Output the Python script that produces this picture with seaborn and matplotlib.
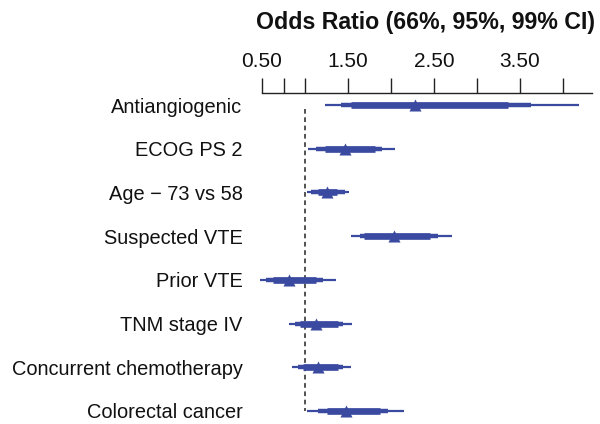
import numpy as np
import pandas as pd
import seaborn as sns
import matplotlib.pyplot as plt

# values (odds ratios)
labels = ['Antiangiogenic', 'ECOG PS 2', 'Age \u2212 73 vs 58', 'Suspected VTE',
          'Prior VTE', 'TNM stage IV', 'Concurrent chemotherapy', 'Colorectal cancer']
odds = [2.28, 1.47, 1.25, 2.04, 0.81, 1.13, 1.15, 1.48]
lo66 = [1.54, 1.23, 1.15, 1.69, 0.63, 0.94, 0.98, 1.25]
hi66 = [3.36, 1.81, 1.37, 2.45, 1.13, 1.38, 1.38, 1.87]
lo95 = [1.42, 1.13, 1.07, 1.64, 0.55, 0.88, 0.92, 1.15]
hi95 = [3.63, 1.89, 1.46, 2.55, 1.21, 1.44, 1.44, 1.97]
lo99 = [1.23, 1.04, 1.02, 1.53, 0.48, 0.81, 0.85, 1.02]
hi99 = [4.19, 2.05, 1.51, 2.71, 1.36, 1.55, 1.54, 2.15]
xticks = [0.5, 0.75, 1.0, 1.5, 2.0, 2.5, 3.0, 3.5, 4.0]
xticklabels = ['0.50', '', '', '1.50', '', '2.50', '', '3.50', '']

df = pd.DataFrame({'label': labels, 'odds': odds,
                   'lo66': lo66, 'hi66': hi66, 'lo95': lo95, 'hi95': hi95,
                   'lo99': lo99, 'hi99': hi99})
df['pos'] = np.arange(len(df))

sns.set_theme(style='white')
plt.rcParams['font.family'] = ['Liberation Sans', 'DejaVu Sans']

col = '#3a4aa0'
fig = plt.figure(figsize=(6, 4.24), dpi=100)
ax = fig.add_axes([262 / 600, 0.0, (591.7 - 262) / 600, 1 - 93.3 / 424])

ax.vlines(1.0, 0.08, 7, colors='#444444', linestyles=(0, (2.6, 2.0)), lw=1.3, zorder=1)
ax.hlines(df.pos, df.lo99, df.hi99, colors=col, lw=1.6, zorder=2, clip_on=False)
ax.hlines(df.pos, df.lo95, df.hi95, colors=col, lw=3.2, zorder=3, clip_on=False)
ax.hlines(df.pos, df.lo66, df.hi66, colors=col, lw=4.8, zorder=4, clip_on=False)
sns.scatterplot(data=df, x='odds', y='pos', marker='^', s=75, color=col,
                edgecolor=col, linewidth=0, zorder=5, ax=ax, clip_on=False)

ax.set_xlim(0.5, 4.333)
ax.set_ylim(7.30, -0.27)
ax.set_yticks(df.pos)
ax.set_yticklabels(labels, fontsize=14.4, color='#111111')
ax.set_xticks(xticks)
ax.set_xticklabels(xticklabels, fontsize=15, color='#111111')
ax.xaxis.tick_top()
ax.tick_params(axis='x', direction='out', length=11, width=1, color='#222222', pad=5)
ax.tick_params(axis='y', length=0, pad=14)
for s in ['left', 'right', 'bottom']:
    ax.spines[s].set_visible(False)
ax.spines['top'].set_color('#222222')
ax.spines['top'].set_linewidth(1)
ax.set_xlabel('')
ax.set_ylabel('')

fig.text(426 / 600, 1 - 23 / 424, 'Odds Ratio (66%, 95%, 99% CI)', ha='center', va='center',
         fontsize=16.7, fontweight='bold', color='#111111')

fig.savefig('out.png', dpi=100)
